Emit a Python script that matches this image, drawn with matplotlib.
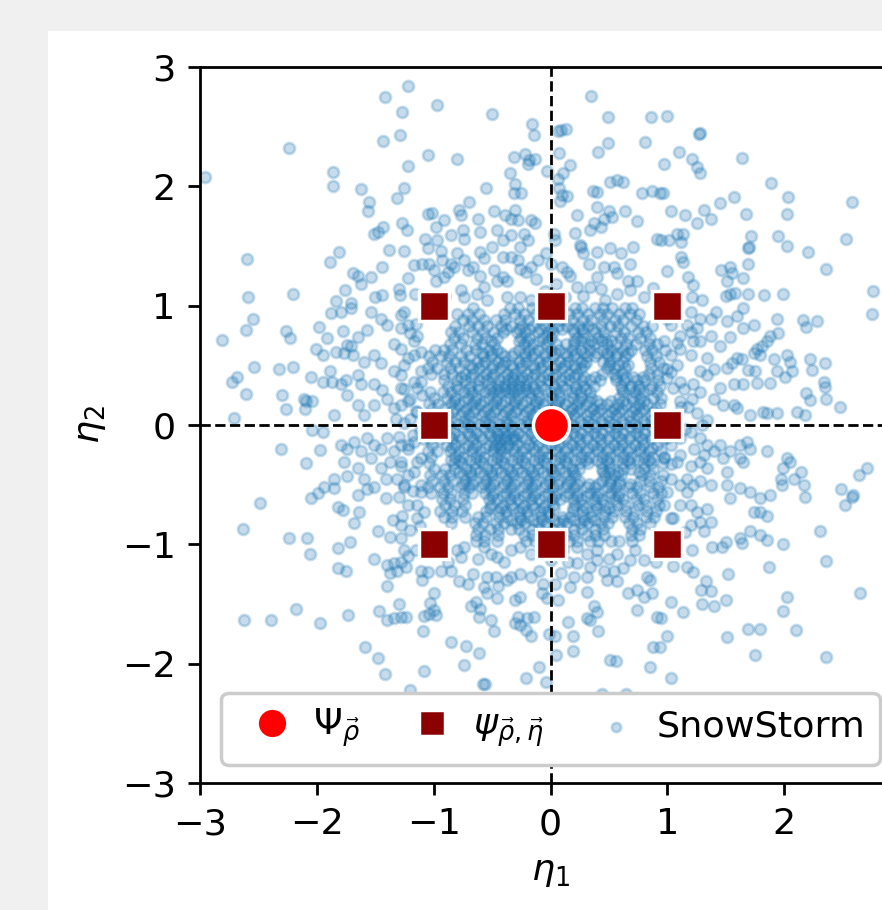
import numpy as np
import matplotlib.pyplot as plt
from matplotlib.patches import Rectangle

plt.rcParams["font.size"] = 10.5

# --- SnowStorm samples (outer, resolvable points) ---
snow_pts = [
    # upper left
    (-1.22, 2.84), (-1.42, 2.75), (-1.27, 2.62), (-2.24, 2.32), (-1.43, 2.38), (-1.29, 2.43),
    (-1.05, 2.26), (-2.96, 2.08), (-1.22, 2.17), (-1.86, 2.12), (-1.86, 2.00), (-1.62, 1.98),
    (-1.25, 1.99), (-1.31, 1.90), (-1.55, 1.87), (-1.56, 1.79), (-1.05, 1.77), (-1.43, 1.66),
    (-1.51, 1.60), (-1.48, 1.62), (-1.27, 1.69), (-1.23, 1.63), (-1.07, 1.56), (-1.05, 1.48),
    (-1.38, 1.47), (-1.25, 1.46), (-1.81, 1.45), (-1.89, 1.37), (-2.60, 1.39), (-1.44, 1.32),
    (-1.17, 1.34), (-1.10, 1.35), (-1.04, 1.35), (-1.69, 1.27), (-1.65, 1.25), (-1.54, 1.24),
    (-1.62, 1.18), (-1.22, 1.23), (-1.76, 1.13), (-1.30, 1.14), (-1.29, 1.09), (-1.44, 1.09),
    (-1.50, 1.07), (-1.16, 1.10), (-2.59, 1.07), (-2.20, 1.10), (-1.84, 1.04), (-1.71, 1.02),
    # upper middle
    (-0.97, 2.68), (-0.50, 2.61), (0.35, 2.76), (0.49, 2.58), (0.86, 2.58), (-0.16, 2.52),
    (-0.14, 2.43), (0.09, 2.47), (0.13, 2.48), (0.06, 2.46), (0.81, 2.37), (0.41, 2.29),
    (0.49, 2.36), (-0.80, 2.23), (0.07, 2.28), (-0.31, 2.25), (-0.22, 2.27), (-0.19, 2.19),
    (-0.13, 2.23), (-0.18, 2.22), (0.17, 2.18), (0.11, 2.11), (-0.35, 2.11), (-0.03, 2.13),
    (0.06, 2.06), (0.07, 1.99), (0.10, 1.93), (0.14, 1.92), (0.08, 1.88), (-0.55, 1.99),
    (-0.30, 2.02), (-0.31, 1.94), (-0.25, 1.94), (0.51, 2.04), (0.57, 2.05), (0.62, 2.04),
    (0.36, 1.96), (0.40, 1.95), (0.78, 1.94), (0.87, 1.96), (0.94, 1.94), (-0.70, 1.87),
    (-1.01, 1.78), (-0.91, 1.72), (-0.98, 1.66), (-0.78, 1.80), (-0.77, 1.76), (-0.62, 1.73),
    (-0.48, 1.79), (-0.39, 1.76), (-0.30, 1.80), (-0.28, 1.72), (-0.34, 1.73), (-0.17, 1.72),
    (-0.13, 1.69), (0.23, 1.76), (0.40, 1.83), (0.50, 1.79), (0.53, 1.74), (0.46, 1.73),
    (0.64, 1.79), (0.74, 1.71), (0.37, 1.69), (0.34, 1.63), (0.43, 1.66), (0.91, 1.56),
    (0.03, 1.60), (0.04, 1.55), (0.21, 1.61), (0.25, 1.51), (-0.85, 1.59), (-0.75, 1.63),
    (-0.74, 1.56), (-0.97, 1.55), (-0.60, 1.62), (-0.46, 1.63), (-0.41, 1.55), (-0.34, 1.59),
    (-0.23, 1.60), (-0.19, 1.55), (-0.26, 1.49), (-0.94, 1.46), (-0.93, 1.38), (-0.85, 1.35),
    (-0.80, 1.44), (-0.74, 1.38), (-0.71, 1.30), (-0.60, 1.45), (-0.57, 1.40), (-0.50, 1.49),
    (-0.41, 1.41), (-0.34, 1.41), (-0.28, 1.38), (-0.11, 1.38), (-0.17, 1.32), (-0.21, 1.28),
    (-0.26, 1.31), (-0.04, 1.44), (0.00, 1.35), (0.10, 1.32), (0.14, 1.28), (0.17, 1.25),
    (0.26, 1.49), (0.28, 1.44), (0.40, 1.45), (0.51, 1.48), (0.60, 1.44), (0.71, 1.49),
    (0.33, 1.35), (0.46, 1.32), (0.54, 1.32), (0.68, 1.35), (0.40, 1.24), (0.57, 1.27),
    (0.66, 1.21), (0.74, 1.21), (-1.00, 1.30), (-0.91, 1.24), (-0.98, 1.21), (-0.83, 1.32),
    (-0.66, 1.32), (-0.48, 1.30), (-0.41, 1.24), (-0.37, 1.21), (-0.46, 1.21), (0.23, 1.16),
    (0.34, 1.16), (0.43, 1.14), (-0.77, 1.13), (-0.74, 1.07), (-0.63, 1.10), (-0.57, 1.16),
    (-0.54, 1.05), (-0.37, 1.07), (-0.26, 1.07), (-0.17, 1.05), (0.57, 1.10), (0.68, 1.13),
    (0.80, 1.07), (-0.88, 1.28), (-0.60, 1.25), (-0.12, 1.22), (0.05, 1.18), (0.28, 1.08),
    (0.88, 1.15), (-0.90, 1.08), (0.12, 1.07), (-0.05, 1.12), (0.47, 1.05),
    # upper right
    (1.00, 2.59), (1.27, 2.44), (1.28, 2.45), (1.10, 2.29), (0.97, 2.19), (1.64, 2.24),
    (1.21, 2.23), (1.25, 2.16), (1.28, 2.11), (1.89, 2.03), (0.96, 1.94), (2.03, 1.91),
    (2.58, 1.87), (1.57, 1.91), (1.45, 1.86), (1.03, 1.79), (1.15, 1.76), (1.25, 1.69),
    (1.31, 1.80), (1.37, 1.73), (1.67, 1.77), (2.02, 1.77), (0.95, 1.55), (1.01, 1.55),
    (1.08, 1.60), (1.13, 1.60), (1.12, 1.53), (1.72, 1.58), (1.70, 1.49), (1.69, 1.48),
    (1.95, 1.58), (2.02, 1.50), (2.53, 1.56), (2.20, 1.45), (1.12, 1.41), (1.13, 1.37),
    (1.00, 1.29), (1.69, 1.35), (2.36, 1.31), (1.46, 1.30), (1.54, 1.32), (1.55, 1.27),
    (1.51, 1.21), (1.65, 1.23), (1.18, 1.24), (1.22, 1.17), (1.50, 1.08), (1.54, 1.10),
    (1.58, 1.11), (1.69, 1.10), (1.83, 1.09), (1.99, 1.10), (2.76, 1.12), (1.30, 1.05),
    (1.21, 1.07),
    # middle left
    (-2.55, 0.89), (-2.61, 0.80), (-2.81, 0.71), (-2.26, 0.79), (-2.23, 0.73), (-1.98, 0.82),
    (-1.91, 0.73), (-1.78, 0.79), (-1.65, 0.74), (-1.74, 0.67), (-2.01, 0.64), (-1.95, 0.59),
    (-1.84, 0.61), (-1.77, 0.60), (-1.69, 0.59), (-1.71, 0.66), (-1.88, 0.94), (-1.79, 0.95),
    (-1.71, 0.98), (-1.54, 0.95), (-1.45, 0.89), (-1.40, 0.84), (-1.28, 0.81), (-1.20, 0.77),
    (-1.34, 0.68), (-1.57, 0.80), (-1.51, 0.59), (-1.45, 0.52), (-1.60, 0.53), (-2.54, 0.49),
    (-2.32, 0.47), (-2.20, 0.49), (-2.68, 0.40), (-2.73, 0.36), (-2.61, 0.26), (-2.30, 0.25),
    (-2.26, 0.13), (-2.11, 0.22), (-2.09, 0.20), (-2.04, 0.20), (-2.10, 0.13), (-2.05, 0.40),
    (-1.95, 0.36), (-1.89, 0.45), (-1.87, 0.36), (-1.79, 0.34), (-1.75, 0.38), (-1.65, 0.42),
    (-1.62, 0.34), (-1.51, 0.34), (-1.44, 0.29), (-1.85, 0.08), (-2.71, 0.06), (-1.74, 0.25),
    (-1.65, 0.17), (-1.60, 0.08), (-1.51, 0.17), (-1.40, 0.22), (-1.34, 0.14), (-1.28, 0.17),
    (-1.22, 0.20), (-1.34, 0.45), (-1.28, 0.42), (-1.17, 0.36), (-1.14, 0.31), (-1.11, 0.45),
    (-1.22, 0.56), (-1.11, 0.61), (-1.17, 0.70), (-1.28, 0.64), (-2.04, -0.04), (-1.95, -0.06),
    (-1.97, -0.21), (-2.31, -0.20), (-2.09, -0.32), (-1.79, -0.17), (-1.74, -0.20), (-1.68, -0.14),
    (-1.62, -0.22), (-1.57, -0.11), (-1.51, -0.17), (-1.45, -0.20), (-1.40, -0.11), (-1.34, -0.22),
    (-1.28, -0.17), (-1.22, -0.20), (-1.17, -0.14), (-1.77, -0.31), (-1.65, -0.36), (-1.54, -0.28),
    (-1.45, -0.36), (-1.37, -0.31), (-1.28, -0.34), (-1.22, -0.42), (-1.14, -0.31), (-1.85, -0.45),
    (-1.74, -0.43), (-1.60, -0.45), (-1.51, -0.52), (-1.41, -0.45), (-1.31, -0.45), (-1.25, -0.52),
    (-1.11, -0.50), (-2.05, -0.61), (-1.99, -0.57), (-1.94, -0.52), (-1.85, -0.53), (-1.65, -0.59),
    (-1.57, -0.54), (-1.41, -0.61), (-2.49, -0.65), (-1.82, -0.69), (-1.78, -0.71), (-1.64, -0.73),
    (-1.68, -0.82), (-1.27, -0.76), (-1.14, -0.67), (-1.08, -0.73), (-2.63, -0.87), (-1.48, -0.89),
    (-1.37, -0.94), (-1.28, -0.95), (-2.24, -0.95), (-2.08, -0.95), (-1.20, 0.05), (-1.12, -0.05),
    (-1.25, 0.02), (-1.15, 0.12), (-1.08, -0.12), (-1.18, -0.08), (-1.10, 0.25), (-1.25, 0.30),
    (-1.30, -0.60), (-1.18, -0.55), (-1.12, -0.85), (-1.20, -0.88), (-1.15, 0.85), (-1.08, 0.92),
    (-1.25, 0.95), (-1.35, -0.80),
    (-1.28, 0.92), (-1.22, 0.84), (-1.14, 0.75), (-1.17, 0.59), (-1.25, 0.50), (-1.11, 0.36),
    (-1.28, 0.31), (-1.20, 0.22), (-1.14, 0.11), (-1.22, -0.17), (-1.11, -0.28), (-1.28, -0.31),
    (-1.17, -0.39), (-1.25, -0.50), (-1.11, -0.56), (-1.22, -0.67), (-1.14, -0.78), (-1.28, -0.84),
    (-1.32, 0.05), (-1.30, -0.10),
    # middle right
    (2.75, 0.93), (2.16, 0.88), (2.28, 0.87), (2.19, 0.82), (1.94, 0.89), (1.88, 0.75),
    (1.95, 0.77), (1.85, 0.70), (1.65, 0.98), (1.60, 0.91), (1.74, 0.84), (1.54, 0.74),
    (1.45, 0.66), (1.37, 0.89), (1.42, 0.95), (1.25, 0.81), (1.37, 0.75), (1.28, 0.70),
    (1.77, 0.64), (1.81, 0.66), (1.74, 0.60), (1.79, 0.59), (2.02, 0.59), (2.05, 0.53),
    (1.91, 0.55), (1.94, 0.45), (2.22, 0.55), (2.24, 0.46), (2.35, 0.52), (2.34, 0.36),
    (2.35, 0.32), (2.36, 0.22), (2.19, 0.27), (2.22, 0.21), (2.48, 0.15), (2.11, 0.11),
    (2.18, 0.08), (1.60, 0.56), (1.55, 0.52), (1.51, 0.48), (1.64, 0.55), (1.69, 0.46),
    (1.75, 0.45), (1.57, 0.34), (1.65, 0.34), (1.77, 0.35), (1.88, 0.35), (2.01, 0.40),
    (2.07, 0.45), (1.57, 0.17), (1.60, 0.14), (1.71, 0.08), (1.82, 0.11), (1.85, 0.10),
    (1.94, 0.10), (1.34, 0.56), (1.40, 0.47), (1.28, 0.45), (1.34, 0.42), (1.45, 0.31),
    (1.40, 0.22), (1.28, 0.28), (1.22, 0.34), (1.11, 0.36), (1.05, 0.31), (1.00, 0.39),
    (1.11, 0.20), (1.21, 0.22), (1.48, 0.17), (1.34, 0.04), (0.97, 0.70), (1.03, 0.59),
    (1.08, 0.50), (1.00, 0.47), (1.11, 0.64), (1.20, 0.59), (1.22, 0.70), (1.17, 0.84),
    (1.11, 0.75), (1.03, 0.84), (1.20, 0.95), (1.28, 0.89), (1.51, 0.87), (1.65, 0.81),
    (1.20, -0.06), (1.28, -0.11), (1.34, -0.17), (1.23, -0.20), (1.31, -0.25), (1.40, -0.22),
    (1.45, -0.17), (1.11, -0.11), (1.03, -0.17), (0.97, -0.28), (1.08, -0.31), (1.20, -0.34),
    (1.28, -0.31), (1.34, -0.36), (1.48, -0.28), (1.54, -0.22), (1.62, -0.17), (1.68, -0.14),
    (1.71, -0.20), (1.62, -0.28), (1.65, -0.31), (1.85, -0.22), (2.02, -0.28), (1.99, -0.36),
    (1.97, -0.45), (1.98, -0.50), (2.05, -0.31), (2.14, -0.39), (2.17, -0.50), (2.18, -0.60),
    (2.08, -0.45), (2.71, -0.36), (2.64, -0.42), (2.49, -0.54), (2.59, -0.59), (2.52, -0.67),
    (2.58, -0.60), (2.31, -0.89), (1.51, -0.39), (1.51, -0.50), (1.54, -0.61), (1.62, -0.53),
    (1.71, -0.56), (1.79, -0.61), (1.88, -0.59), (1.74, -0.73), (1.79, -0.73), (1.85, -0.76),
    (1.71, -0.89), (1.79, -0.92), (1.62, -0.95), (1.03, -0.45), (1.11, -0.50), (1.17, -0.56),
    (1.22, -0.50), (1.28, -0.47), (1.37, -0.50), (1.20, -0.67), (1.25, -0.73), (1.34, -0.70),
    (1.28, -0.81), (1.05, -0.78), (0.97, -0.67), (1.37, -0.81), (1.31, -0.89), (1.08, 0.08),
    (1.15, -0.03), (1.25, 0.10), (1.05, -0.08), (1.12, 0.15), (1.15, -0.90), (1.08, 0.95),
    (1.20, 0.78),
    (1.00, 0.89), (1.08, 0.69), (1.03, 0.44), (1.14, 0.30), (1.00, -0.11), (1.11, -0.25),
    (1.03, -0.33), (1.17, -0.45), (1.00, -0.56), (1.11, -0.67), (1.03, -0.78), (1.20, -0.84),
    (1.30, 0.00), (1.18, 0.15),
    # lower left
    (-2.06, -1.08), (-1.82, -1.03), (-1.72, -0.98), (-1.82, -1.20), (-1.75, -1.22), (-1.51, -1.12),
    (-1.40, -1.17), (-1.34, -1.16), (-1.28, -1.15), (-1.37, -1.24), (-1.31, -1.22), (-1.22, -1.10),
    (-1.24, -1.19), (-1.11, -1.22), (-1.05, -1.23), (-1.40, -1.35), (-1.30, -1.50), (-2.18, -1.54),
    (-2.62, -1.63), (-2.39, -1.63), (-1.97, -1.66), (-1.73, -1.59), (-1.47, -1.56), (-1.40, -1.63),
    (-1.34, -1.62), (-1.28, -1.61), (-1.24, -1.61), (-1.08, -1.60), (-1.04, -1.58), (-1.09, -1.73),
    (-1.03, -1.49), (-1.59, -1.86), (-1.48, -1.95), (-1.42, -2.09), (-1.08, -2.06), (-1.20, -2.22),
    (-1.15, -1.05), (-1.10, -1.30), (-1.25, -1.05),
    # lower middle
    (-1.00, -1.41), (-1.00, -1.55), (-0.98, -1.59), (-0.85, -1.82), (-0.72, -1.85), (-0.61, -1.91),
    (-0.74, -2.01), (-0.58, -2.17), (-0.68, -1.52), (-0.64, -1.48), (-0.60, -1.54), (-0.61, -1.61),
    (-0.51, -1.63), (-0.48, -1.73), (-0.78, -1.31), (-0.71, -1.33), (-0.57, -1.36), (-0.54, -1.41),
    (-0.46, -1.45), (-0.47, -1.27), (-0.37, -1.30), (-0.30, -1.47), (-0.26, -1.44), (-0.28, -1.61),
    (-0.20, -1.62), (-0.26, -1.68), (-0.21, -1.72), (-0.17, -1.77), (-0.14, -1.61), (-0.30, -1.66),
    (-0.21, -2.12), (-0.10, -2.03), (-0.04, -2.15), (-0.01, -1.75), (0.04, -1.77), (0.05, -1.93),
    (-0.07, -1.41), (-0.03, -1.45), (0.06, -1.47), (-0.06, -1.33), (0.04, -1.33), (0.09, -1.24),
    (0.17, -1.36), (0.15, -1.65), (0.19, -1.77), (0.19, -1.89), (0.31, -1.40), (0.37, -1.52),
    (0.40, -1.57), (0.34, -1.63), (0.41, -1.73), (0.31, -1.62), (0.51, -1.97), (0.56, -1.98),
    (0.23, -1.16), (0.34, -1.19), (0.40, -1.13), (0.48, -1.30), (0.57, -1.31), (0.46, -1.22),
    (0.54, -1.22), (0.66, -1.41), (0.74, -1.38), (0.80, -1.44), (0.74, -1.55), (0.85, -1.30),
    (0.87, -1.41), (0.83, -1.27), (0.91, -1.61), (0.88, -1.86), (0.85, -2.03), (-0.97, -1.02),
    (-0.91, -1.08), (-0.80, -1.05), (-0.77, -1.11), (-0.74, -1.02), (-0.57, -1.02), (-0.51, -1.08),
    (-0.46, -1.11), (-0.34, -1.05), (-0.26, -1.02), (-0.17, -1.08), (-0.94, -1.22), (-0.85, -1.22),
    (-0.66, -1.25), (-0.54, -1.27), (-0.34, -1.27), (-0.26, -1.25), (-0.17, -1.27), (0.00, -1.13),
    (0.11, -1.05), (0.23, -1.02), (0.31, -1.08), (0.40, -1.05), (0.57, -1.08), (0.68, -1.13),
    (0.80, -1.13), (0.20, -1.27), (0.31, -1.27), (-0.40, -1.15), (-0.62, -1.12), (0.15, -1.15),
    (0.50, -1.12), (0.72, -1.05), (0.90, -1.15), (-0.88, -1.15), (-0.10, -1.22), (0.62, -1.20),
    (-0.45, -1.35), (0.44, -2.25), (0.65, -2.25), (-0.56, -2.17),
    # lower right
    (1.21, -1.05), (1.38, -1.02), (1.47, -1.02), (1.50, -0.98), (1.64, -0.99), (1.85, -0.96),
    (1.99, -1.00), (2.36, -1.14), (1.87, -1.19), (1.05, -1.18), (1.17, -1.19), (1.22, -1.23),
    (1.52, -1.25), (1.33, -1.31), (1.29, -1.38), (1.37, -1.39), (1.30, -1.50), (1.40, -1.52),
    (1.50, -1.47), (1.03, -1.48), (1.13, -1.57), (0.95, -1.62), (2.02, -1.44), (1.99, -1.56),
    (2.65, -1.41), (1.69, -1.71), (1.79, -1.71), (2.10, -1.72), (1.51, -1.78), (1.00, -1.77),
    (0.94, -1.86), (1.75, -1.93), (2.36, -1.94), (1.03, -2.12),
]

# --- dense core: too crowded to resolve, read row by row ---
core_a_y = [0.98, 0.93, 0.88, 0.83, 0.78, 0.73, 0.68, 0.63, 0.58, 0.53,
            0.48, 0.43, 0.38, 0.33, 0.28, 0.23, 0.18, 0.13, 0.08, 0.03,
            -0.02, -0.07, -0.12, -0.17, -0.22, -0.27, -0.32, -0.37, -0.42, -0.47,
            -0.52, -0.57, -0.62, -0.67, -0.72, -0.77, -0.82, -0.87, -0.92, -0.97]
core_a_x = [
    [-0.66, -0.35, -0.28, -0.16, -0.09, 0.03, 0.10, 0.21, 0.27, 0.38, 0.45, 0.53, 0.64, 0.70],
    [-0.80, -0.71, -0.61, -0.40, -0.30, -0.23, -0.12, -0.03, 0.06, 0.16, 0.23, 0.32, 0.42, 0.48, 0.59, 0.68, 0.76],
    [-0.75, -0.67, -0.57, -0.47, -0.39, -0.26, -0.19, -0.08, 0.01, 0.09, 0.18, 0.28, 0.35, 0.45, 0.55, 0.62, 0.73],
    [-0.82, -0.70, -0.62, -0.54, -0.42, -0.34, -0.24, -0.15, -0.05, 0.06, 0.14, 0.24, 0.32, 0.43, 0.51, 0.58, 0.69, 0.79, 0.87],
    [-0.85, -0.78, -0.67, -0.58, -0.48, -0.41, -0.29, -0.22, -0.11, -0.02, 0.02, 0.20, 0.28, 0.38, 0.46, 0.56, 0.63, 0.75, 0.82],
    [-0.83, -0.75, -0.63, -0.56, -0.46, -0.25, -0.18, -0.06, 0.00, 0.23, 0.29, 0.41, 0.47, 0.60, 0.66, 0.77, 0.85],
    [-0.86, -0.77, -0.65, -0.59, -0.48, -0.23, -0.15, -0.04, 0.05, 0.13, 0.20, 0.32, 0.37, 0.48, 0.56, 0.65, 0.73, 0.84, 0.91],
    [-0.99, -0.91, -0.84, -0.72, -0.64, -0.53, -0.46, -0.27, -0.18, -0.11, 0.00, 0.07, 0.18, 0.26, 0.34, 0.45, 0.52, 0.62, 0.69, 0.81, 0.87, 0.98],
    [-1.04, -0.94, -0.87, -0.77, -0.69, -0.58, -0.51, -0.40, -0.33, -0.22, -0.16, -0.05, 0.02, 0.14, 0.20, 0.31, 0.38, 0.49, 0.56, 0.64, 0.83, 0.90],
    [-1.01, -0.89, -0.82, -0.74, -0.63, -0.56, -0.45, -0.39, -0.27, -0.21, -0.10, -0.03, 0.08, 0.15, 0.26, 0.30, 0.45, 0.51, 0.62, 0.85, 0.93],
    [-1.05, -0.97, -0.86, -0.78, -0.67, -0.61, -0.50, -0.43, -0.32, -0.25, -0.14, -0.08, 0.03, 0.10, 0.21, 0.26, 0.48, 0.54, 0.64, 0.86, 0.96],
    [-1.02, -0.91, -0.84, -0.73, -0.66, -0.55, -0.48, -0.37, -0.30, -0.20, -0.13, -0.02, 0.05, 0.16, 0.23, 0.44, 0.54, 0.61, 0.84, 0.91],
    [-0.91, -0.80, -0.73, -0.61, -0.54, -0.44, -0.36, -0.31, -0.26, -0.20, -0.09, -0.02, 0.09, 0.16, 0.27, 0.34, 0.42, 0.56, 0.63, 0.74, 0.81, 0.92],
    [-0.88, -0.81, -0.69, -0.62, -0.51, -0.45, -0.40, -0.33, -0.27, -0.22, -0.15, -0.08, 0.03, 0.10, 0.21, 0.28, 0.37, 0.60, 0.69, 0.76, 0.87, 0.94],
    [-1.03, -0.92, -0.85, -0.74, -0.67, -0.56, -0.49, -0.43, -0.36, -0.31, -0.24, -0.18, -0.11, 0.00, 0.07, 0.18, 0.25, 0.34, 0.62, 0.72, 0.79, 0.91],
    [-1.00, -0.89, -0.82, -0.71, -0.64, -0.53, -0.46, -0.35, -0.28, -0.17, -0.10, 0.01, 0.08, 0.19, 0.26, 0.35, 0.59, 0.70, 0.77, 0.88, 0.95],
    [-1.04, -0.96, -0.85, -0.78, -0.67, -0.60, -0.49, -0.42, -0.31, -0.24, -0.13, -0.06, 0.05, 0.12, 0.23, 0.30, 0.42, 0.48, 0.58, 0.65, 0.76, 0.83, 0.94],
    [-1.01, -0.91, -0.83, -0.72, -0.65, -0.54, -0.47, -0.36, -0.29, -0.18, -0.11, 0.00, 0.06, 0.18, 0.25, 0.36, 0.43, 0.54, 0.61, 0.72, 0.79, 0.90],
    [-1.05, -0.95, -0.88, -0.77, -0.70, -0.59, -0.52, -0.41, -0.34, -0.23, -0.16, -0.05, 0.02, 0.13, 0.20, 0.31, 0.38, 0.49, 0.56, 0.67, 0.74, 0.86, 0.93],
    [-1.02, -0.92, -0.85, -0.74, -0.67, -0.56, -0.49, -0.38, -0.31, -0.20, -0.13, -0.02, 0.07, 0.14, 0.25, 0.32, 0.43, 0.50, 0.61, 0.68, 0.79, 0.86, 0.97],
    [-1.04, -0.93, -0.86, -0.75, -0.68, -0.57, -0.50, -0.40, -0.33, -0.22, -0.15, -0.04, 0.03, 0.14, 0.21, 0.32, 0.39, 0.50, 0.57, 0.68, 0.75, 0.87, 0.94],
    [-1.00, -0.90, -0.83, -0.71, -0.64, -0.53, -0.46, -0.41, -0.35, -0.28, -0.17, -0.10, 0.01, 0.08, 0.19, 0.26, 0.37, 0.44, 0.55, 0.62, 0.73, 0.80, 0.92],
    [-1.03, -0.95, -0.84, -0.77, -0.66, -0.59, -0.48, -0.43, -0.39, -0.33, -0.30, -0.21, -0.12, -0.05, 0.06, 0.13, 0.24, 0.31, 0.42, 0.49, 0.60, 0.67, 0.78, 0.86, 0.96],
    [-1.01, -0.89, -0.82, -0.71, -0.64, -0.53, -0.47, -0.42, -0.36, -0.29, -0.18, -0.11, 0.00, 0.07, 0.18, 0.25, 0.36, 0.43, 0.54, 0.61, 0.72, 0.79, 0.91],
    [-1.05, -0.97, -0.86, -0.78, -0.67, -0.60, -0.49, -0.42, -0.31, -0.24, -0.13, -0.06, 0.05, 0.12, 0.23, 0.30, 0.41, 0.48, 0.59, 0.66, 0.77, 0.84, 0.95],
    [-1.02, -0.82, -0.75, -0.64, -0.57, -0.46, -0.39, -0.28, -0.21, -0.10, -0.03, 0.08, 0.15, 0.26, 0.33, 0.44, 0.51, 0.62, 0.69, 0.80, 0.87, 0.97],
    [-1.04, -0.83, -0.76, -0.65, -0.58, -0.47, -0.40, -0.29, -0.22, -0.11, -0.04, 0.07, 0.14, 0.25, 0.32, 0.43, 0.50, 0.61, 0.68, 0.79, 0.86, 0.96],
    [-1.00, -0.90, -0.83, -0.72, -0.65, -0.54, -0.47, -0.36, -0.29, -0.18, -0.11, 0.00, 0.07, 0.18, 0.24, 0.44, 0.51, 0.62, 0.69, 0.80, 0.88],
    [-1.03, -0.93, -0.86, -0.75, -0.68, -0.57, -0.50, -0.39, -0.32, -0.21, -0.14, -0.03, 0.04, 0.15, 0.21, 0.47, 0.54, 0.60, 0.78, 0.85, 0.96],
    [-1.01, -0.91, -0.84, -0.73, -0.66, -0.55, -0.48, -0.37, -0.30, -0.19, -0.12, -0.01, 0.06, 0.17, 0.24, 0.44, 0.51, 0.59, 0.77, 0.84, 0.95],
    [-1.05, -0.95, -0.88, -0.77, -0.70, -0.59, -0.52, -0.41, -0.34, -0.23, -0.16, -0.05, 0.02, 0.13, 0.20, 0.31, 0.38, 0.49, 0.56, 0.67, 0.74, 0.85, 0.92],
    [-1.02, -0.92, -0.85, -0.74, -0.67, -0.56, -0.49, -0.38, -0.31, -0.20, -0.13, -0.02, 0.05, 0.16, 0.23, 0.34, 0.41, 0.52, 0.59, 0.70, 0.77, 0.88, 0.95],
    [-0.93, -0.86, -0.75, -0.53, -0.46, -0.35, -0.28, -0.17, -0.10, 0.01, 0.08, 0.19, 0.26, 0.37, 0.44, 0.55, 0.62, 0.73, 0.80, 0.91],
    [-0.90, -0.83, -0.73, -0.51, -0.41, -0.34, -0.23, -0.16, -0.05, 0.02, 0.21, 0.28, 0.39, 0.46, 0.57, 0.64, 0.75, 0.82, 0.93],
    [-0.95, -0.84, -0.76, -0.55, -0.45, -0.38, -0.27, -0.20, -0.09, -0.02, 0.19, 0.27, 0.36, 0.47, 0.54, 0.65, 0.72, 0.83, 0.90],
    [-0.91, -0.84, -0.73, -0.62, -0.55, -0.44, -0.37, -0.26, -0.19, -0.08, -0.01, 0.10, 0.17, 0.28, 0.35, 0.46, 0.53, 0.64, 0.71, 0.82, 0.89],
    [-0.85, -0.65, -0.58, -0.47, -0.40, -0.29, -0.22, -0.11, -0.04, 0.07, 0.14, 0.25, 0.32, 0.43, 0.49, 0.67, 0.74, 0.85],
    [-0.62, -0.52, -0.45, -0.34, -0.27, -0.16, -0.09, 0.02, 0.09, 0.20, 0.27, 0.38, 0.45, 0.70, 0.77],
    [-0.64, -0.56, -0.45, -0.23, -0.16, -0.05, 0.02, 0.13, 0.20, 0.31, 0.38, 0.46, 0.69, 0.76],
    [-0.64, -0.57, -0.46, -0.21, -0.13, -0.02, 0.05, 0.16, 0.23, 0.34, 0.41, 0.52, 0.59, 0.70],
]
core_b_y = [0.805, 0.705, 0.605, 0.505, 0.405, 0.305, 0.205, 0.105, 0.005,
            -0.095, -0.195, -0.295, -0.395, -0.495, -0.595, -0.695, -0.795]
core_b_x = [
    [-0.38, -0.27, -0.18, -0.09, 0.00, 0.10, 0.19, 0.27, 0.36],
    [-0.51, -0.27, -0.20, -0.10, -0.02, 0.20, 0.26, 0.35, 0.44, 0.52],
    [-0.59, -0.50, -0.42, -0.31, -0.22, -0.14, -0.05, 0.04, 0.12, 0.22, 0.29, 0.40, 0.48, 0.57, 0.66],
    [-0.69, -0.59, -0.49, -0.41, -0.34, -0.24, -0.15, -0.06, 0.05, 0.12, 0.20, 0.29, 0.50, 0.58, 0.66],
    [-0.77, -0.68, -0.58, -0.50, -0.40, -0.33, -0.24, -0.16, -0.06, 0.02, 0.12, 0.20, 0.29, 0.38, 0.56, 0.65, 0.71, 0.79],
    [-0.79, -0.70, -0.61, -0.52, -0.46, -0.39, -0.34, -0.28, -0.21, -0.14, -0.05, 0.04, 0.13, 0.22, 0.30, 0.61, 0.67, 0.76, 0.85],
    [-0.83, -0.74, -0.65, -0.57, -0.47, -0.39, -0.30, -0.21, -0.12, -0.03, 0.06, 0.15, 0.24, 0.33, 0.40, 0.52, 0.62, 0.71, 0.80],
    [-0.84, -0.75, -0.66, -0.57, -0.48, -0.39, -0.30, -0.21, -0.12, -0.03, 0.06, 0.16, 0.23, 0.34, 0.41, 0.52, 0.59, 0.70, 0.77, 0.88],
    [-0.88, -0.79, -0.71, -0.61, -0.53, -0.44, -0.36, -0.26, -0.18, -0.08, 0.00, 0.10, 0.18, 0.28, 0.36, 0.45, 0.54, 0.63, 0.72, 0.81],
    [-0.87, -0.78, -0.69, -0.60, -0.51, -0.45, -0.38, -0.31, -0.24, -0.14, -0.05, 0.04, 0.13, 0.22, 0.31, 0.40, 0.50, 0.58, 0.68, 0.76, 0.86],
    [-0.84, -0.74, -0.66, -0.56, -0.48, -0.43, -0.38, -0.32, -0.22, -0.15, -0.04, 0.04, 0.14, 0.22, 0.32, 0.40, 0.50, 0.58, 0.68, 0.77, 0.87],
    [-0.85, -0.78, -0.69, -0.60, -0.50, -0.42, -0.33, -0.24, -0.14, -0.06, 0.04, 0.12, 0.21, 0.30, 0.40, 0.48, 0.57, 0.66, 0.75, 0.84],
    [-0.78, -0.69, -0.60, -0.51, -0.42, -0.34, -0.24, -0.16, -0.06, 0.02, 0.12, 0.19, 0.45, 0.50, 0.58, 0.76],
    [-0.75, -0.67, -0.57, -0.49, -0.40, -0.31, -0.21, -0.13, -0.04, 0.06, 0.14, 0.23, 0.33, 0.41, 0.51, 0.59, 0.68],
    [-0.50, -0.41, -0.31, -0.23, -0.14, -0.05, 0.04, 0.13, 0.23, 0.31, 0.40, 0.50, 0.58],
    [-0.52, -0.42, -0.32, -0.24, -0.14, -0.06, 0.03, 0.19, 0.30, 0.40, 0.50],
    [-0.34, -0.25, -0.15, -0.07, 0.03, 0.11, 0.20, 0.29, 0.38],
]

# --- nominal point and its perturbed neighbours ---
nominal_x = [0.0]
nominal_y = [0.0]
stencil_x = [-1, 0, 1, -1, 1, -1, 0, 1]
stencil_y = [1, 1, 1, 0, 0, -1, -1, -1]


def rows_to_xy(levels, rows):
    xs = np.concatenate(rows)
    ys = np.concatenate([[y] * len(r) for y, r in zip(levels, rows)])
    return xs, ys


outer = np.array(snow_pts)
a_x, a_y = rows_to_xy(core_a_y, core_a_x)
b_x, b_y = rows_to_xy(core_b_y, core_b_x)
snow_x = np.concatenate([outer[:, 0], a_x, b_x])
snow_y = np.concatenate([outer[:, 1], a_y, b_y])

# figure: 882x910 px, white panel sitting on a light grey page
fig = plt.figure(figsize=(882 / 250, 910 / 250), dpi=250, facecolor="#f0f0f0")
fig.add_artist(Rectangle((48 / 882, 0), 1, 1 - 31 / 910, transform=fig.transFigure,
                         facecolor="white", edgecolor="none", zorder=-1))
ax = fig.add_axes([200 / 882, 127 / 910, 701 / 882, 716 / 910])

snow = ax.scatter(snow_x, snow_y, s=10, color="C0", alpha=0.25, linewidths=0.8,
                  label="SnowStorm", zorder=1)
ax.axhline(0, color="k", ls="--", lw=0.8, zorder=2)
ax.axvline(0, color="k", ls="--", lw=0.8, zorder=2)
sq, = ax.plot(stencil_x, stencil_y, "s", color="darkred", ms=8.6, mec="white", mew=1.0,
              ls="none", label=r"$\psi_{\vec{\rho},\vec{\eta}}$", zorder=3)
nom, = ax.plot(nominal_x, nominal_y, "o", color="red", ms=10.4, mec="white", mew=1.0,
               ls="none", label=r"$\Psi_{\vec{\rho}}$", zorder=4)

ax.set_xlim(-3, 3)
ax.set_ylim(-3, 3)
ax.set_xticks([-3, -2, -1, 0, 1, 2])   # the "3" label falls outside the cropped panel
ax.set_yticks([-3, -2, -1, 0, 1, 2, 3])
ax.set_xlabel(r"$\eta_1$")
ax.set_ylabel(r"$\eta_2$")

ax.legend(handles=[nom, sq, snow], loc="lower center", ncol=3, markerscale=0.85,
          handletextpad=0.1, columnspacing=1.0, framealpha=1.0)

fig.savefig("out.png", dpi=250, facecolor=fig.get_facecolor())
